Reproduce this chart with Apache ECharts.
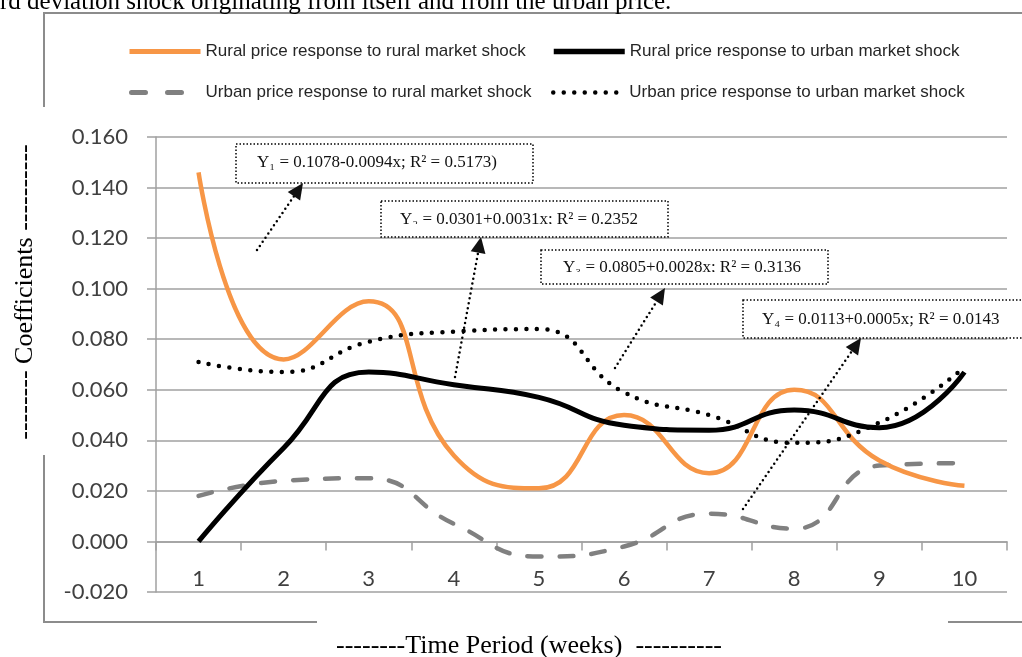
<!DOCTYPE html>
<html>
<head>
<meta charset="utf-8">
<script src="https://cdn.jsdelivr.net/npm/echarts@6/dist/echarts.min.js"></script>
<style>
html,body{margin:0;padding:0;background:#fff;}
#c{width:1022px;height:657px;}
</style>
</head>
<body>
<div id="c"></div>
<script>
// ---- data ----
const categories = ['1', '2', '3', '4', '5', '6', '7', '8', '9', '10'];
const seriesNames = [
  'Rural price response to rural market shock',
  'Rural price response to urban market shock',
  'Urban price response to rural market shock',
  'Urban price response to urban market shock'
];
const ruralRural = [0.146, 0.072, 0.095, 0.034, 0.021, 0.050, 0.027, 0.060, 0.032, 0.022];
const ruralUrban = [0.000, 0.037, 0.067, 0.062, 0.057, 0.046, 0.044, 0.052, 0.045, 0.067];
const urbanRural = [0.018, 0.024, 0.025, 0.007, -0.006, -0.002, 0.011, 0.005, 0.030, 0.031];
const urbanUrban = [0.071, 0.067, 0.079, 0.083, 0.084, 0.059, 0.050, 0.039, 0.047, 0.069];
const yMin = -0.02, yMax = 0.16, yStep = 0.02;
const equations = [
  'Y\u2081 = 0.1078-0.0094x; R\u00B2 = 0.5173)',
  'Y\u2082 = 0.0301+0.0031x; R\u00B2 = 0.2352',
  'Y\u2083 = 0.0805+0.0028x; R\u00B2 = 0.3136',
  'Y\u2084 = 0.0113+0.0005x; R\u00B2 = 0.0143'
];
const topCaption = 'rd deviation shock originating from itself and from the urban price.';
const yTitle = '-------- Coefficients ----------';
const xTitle = '--------Time Period (weeks)  ----------';

// ---- styles ----
const gridColor = '#a0a0a0';
const frameColor = '#8c8c8c';
const labelFont = 'Lato, "Open Sans", sans-serif';
const legendFont = '"Liberation Sans Narrow", "Liberation Sans", sans-serif';
const serif = '"Liberation Serif", "Times New Roman", serif';

const chart = echarts.init(document.getElementById('c'));

function legendAt(name, left, top, width, lineStyle) {
  return {
    data: [name], left: left, top: top, orient: 'horizontal',
    itemWidth: width, itemHeight: 14, padding: 0,
    selectedMode: false,
    itemStyle: {opacity: 0, borderWidth: 0},
    lineStyle: lineStyle,
    textStyle: {fontFamily: legendFont, fontSize: 17, color: '#262626'}
  };
}

function arrow(fx, fy, tx, ty) {
  const L = 16, W = 7.5;
  const dx = tx - fx, dy = ty - fy, d = Math.sqrt(dx * dx + dy * dy);
  const ux = dx / d, uy = dy / d;
  const bx = tx - ux * L, by = ty - uy * L;
  return [
    {type: 'line', z: 100, shape: {x1: fx, y1: fy, x2: bx, y2: by},
     style: {stroke: '#000', lineWidth: 2.5, lineDash: [0, 5], lineCap: 'round'}},
    {type: 'polygon', z: 100, shape: {points: [[tx, ty], [bx - uy * W, by + ux * W], [bx + uy * W, by - ux * W]]},
     style: {fill: '#111'}}
  ];
}

function box(x, y, w, h, text, tx, ty, cutY) {
  const els = [
    {type: 'rect', z: 99, shape: {x: x, y: y, width: w, height: h}, style: {fill: '#fff', stroke: null}},
    {type: 'text', z: 100, x: tx, y: ty,
     style: {text: text, font: '17px ' + serif, fill: '#111', verticalAlign: 'middle', align: 'left'}}
  ];
  if (cutY) {
    els.push({type: 'rect', z: 101, shape: {x: x + 1, y: cutY, width: w - 2, height: y + h - cutY - 1}, style: {fill: '#fff'}});
  }
  els.push({type: 'rect', z: 102, shape: {x: x, y: y, width: w, height: h},
    style: {fill: null, stroke: '#000', lineWidth: 1.5, lineDash: [1.5, 2]}});
  return els;
}

const graphics = [].concat(
  [
    {type: 'polyline', shape: {points: [[44, 107], [44, 13], [1024, 13]]}, style: {stroke: frameColor, lineWidth: 2, fill: null}},
    {type: 'polyline', shape: {points: [[44, 455], [44, 622], [317, 622]]}, style: {stroke: frameColor, lineWidth: 2, fill: null}},
    {type: 'line', shape: {x1: 948, y1: 622, x2: 1024, y2: 622}, style: {stroke: frameColor, lineWidth: 2}},
    {type: 'text', x: 0, y: 2, style: {text: topCaption, font: '25px ' + serif, fill: '#000', verticalAlign: 'middle', align: 'left'}},
    {type: 'text', x: 25, y: 292, rotation: Math.PI / 2,
     style: {text: yTitle, font: '26px ' + serif, fill: '#000', verticalAlign: 'middle', align: 'center'}},
    {type: 'text', x: 336, y: 646, style: {text: xTitle, font: '26px ' + serif, fill: '#000', verticalAlign: 'middle', align: 'left'}}
  ],
  box(236, 144, 297, 39, equations[0], 257, 163, null),
  box(381, 201, 287, 36, equations[1], 400, 219.5, 224),
  box(541, 250, 287, 34, equations[2], 563, 267.5, 272),
  box(743, 300, 290, 38, equations[3], 762, 320, null),
  arrow(257, 250, 303, 183),
  arrow(455, 377, 481, 237),
  arrow(615, 368, 665, 288),
  arrow(743, 509, 861, 338)
);

const option = {
  backgroundColor: '#fff',
  animation: false,
  grid: {left: 156, right: 15, top: 137, bottom: 65, containLabel: false},
  legend: [
    legendAt(seriesNames[0], 127, 43, 71, {width: 5, color: '#F79646'}),
    legendAt(seriesNames[1], 551, 43, 71, {width: 5.5, color: '#000'}),
    legendAt(seriesNames[2], 129, 84, 69, {type: [14, 22], cap: 'round', width: 5, color: '#808080'}),
    legendAt(seriesNames[3], 551, 84, 71, {type: [0, 10.5], cap: 'round', width: 4.5, color: '#000'})
  ],
  xAxis: {
    type: 'category',
    data: categories,
    boundaryGap: true,
    axisLine: {show: true, onZero: true, lineStyle: {color: gridColor, width: 1.5}},
    axisTick: {show: true, length: 9, inside: false, alignWithLabel: false, lineStyle: {color: gridColor, width: 1.5}},
    axisLabel: {margin: -24, fontFamily: labelFont, fontSize: 22, color: '#404040'},
    splitLine: {show: false}
  },
  yAxis: {
    type: 'value',
    min: yMin, max: yMax, interval: yStep,
    axisLine: {show: true, lineStyle: {color: gridColor, width: 1.5}},
    axisTick: {show: true, length: 9, lineStyle: {color: gridColor, width: 1.5}},
    axisLabel: {margin: 28, fontFamily: labelFont, fontSize: 22, color: '#404040',
      formatter: function (v) { return v.toFixed(3); }},
    splitLine: {show: true, lineStyle: {color: gridColor, width: 1.5}}
  },
  series: [
    {name: seriesNames[2], type: 'line', data: urbanRural, smooth: 0.5, symbol: 'none',
     lineStyle: {color: '#808080', width: 4.5, type: [14, 18], cap: 'round'}, itemStyle: {color: '#808080'}},
    {name: seriesNames[0], type: 'line', data: ruralRural, smooth: 0.5, symbol: 'none',
     lineStyle: {color: '#F79646', width: 4.5}, itemStyle: {color: '#F79646'}},
    {name: seriesNames[1], type: 'line', data: ruralUrban, smooth: 0.5, symbol: 'none',
     lineStyle: {color: '#000', width: 5}, itemStyle: {color: '#000'}},
    {name: seriesNames[3], type: 'line', data: urbanUrban, smooth: 0.5, symbol: 'none',
     lineStyle: {color: '#000', width: 4.5, type: [0, 10.5], cap: 'round'}, itemStyle: {color: '#000'}}
  ],
  graphic: graphics
};
chart.setOption(option);
</script>
</body>
</html>
